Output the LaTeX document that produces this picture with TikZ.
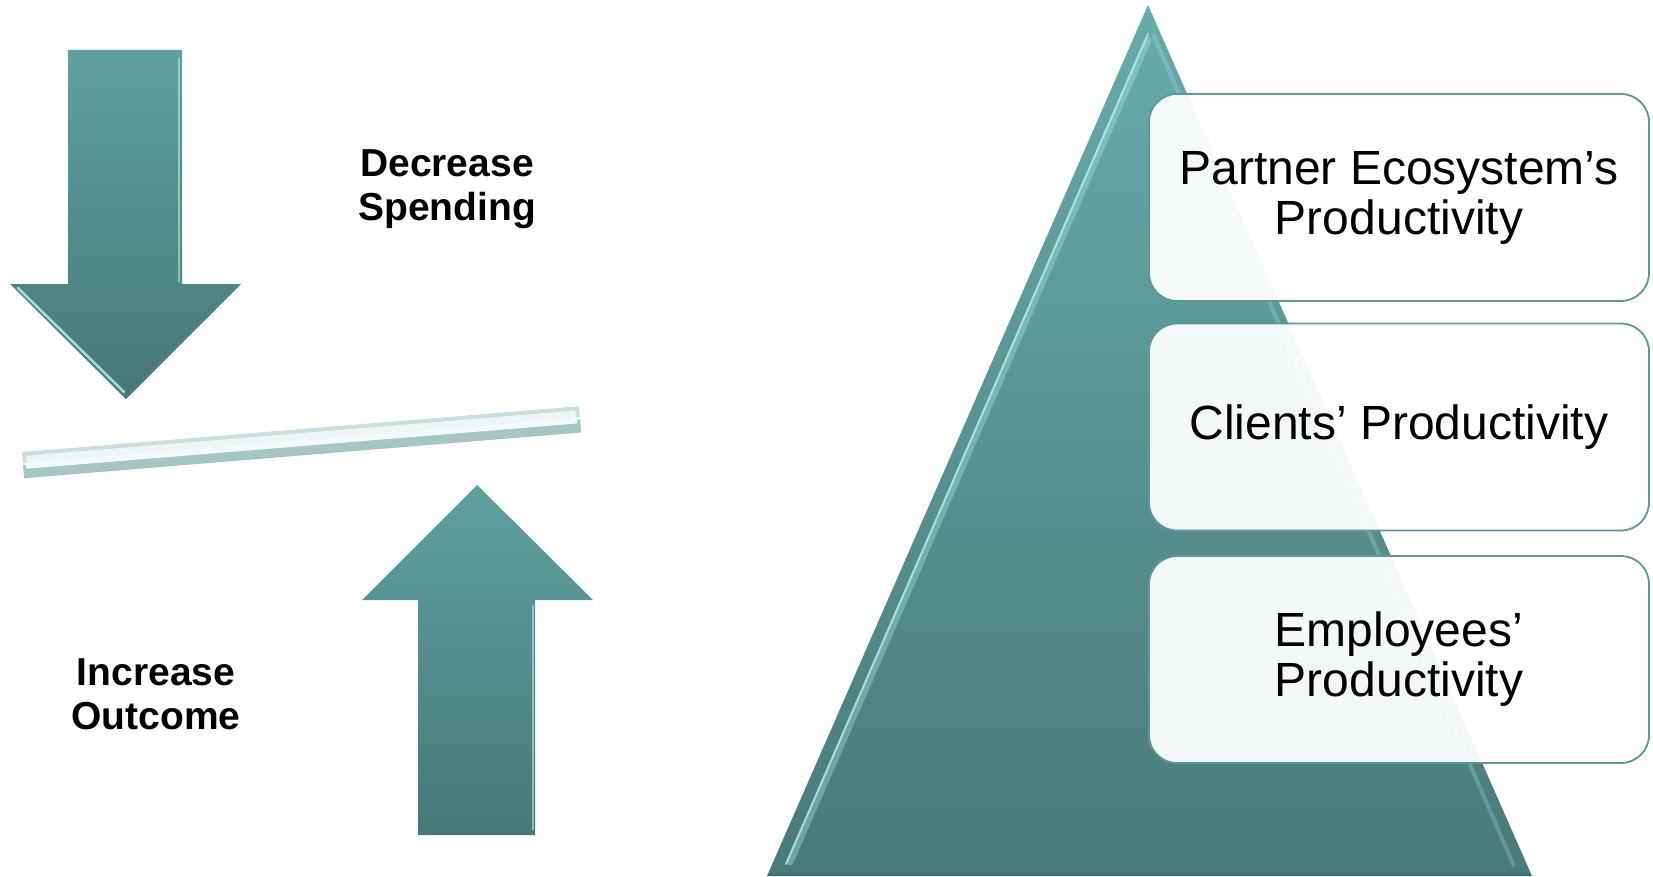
\documentclass[tikz,border=0pt]{standalone}
\usepackage{fontspec}
\setmainfont{Liberation Sans}
\definecolor{tealTop}{HTML}{5FA0A0}
\definecolor{tealBot}{HTML}{477878}
\definecolor{tealLight}{HTML}{B6ECEC}
\definecolor{triTop}{HTML}{68ABAB}
\definecolor{triBot}{HTML}{497A7A}
\definecolor{triDark}{HTML}{3E6A6A}
\definecolor{boxEdge}{HTML}{5C9898}
\definecolor{barTop}{HTML}{C9DEDE}
\definecolor{barMid}{HTML}{F2FAFA}
\definecolor{barBot}{HTML}{A6C5C5}
\begin{document}
\begin{tikzpicture}[x=1pt,y=-1pt,
  tealshade/.style={top color=tealTop, bottom color=tealBot},
  bevel/.style={draw=tealLight, line width=2.5pt, line cap=round, opacity=0.85},
  pbox/.style={draw=boxEdge, line width=1.8pt, rounded corners=28pt, fill=white,
     fill opacity=0.94, text opacity=1, minimum width=500pt, minimum height=207pt,
     font=\fontsize{48}{50}\selectfont, align=center, text=black},
  boldlbl/.style={font=\fontsize{39}{44}\selectfont\bfseries, align=center, text=black}]
\useasboundingbox (0,0) rectangle (1653,877);

% down arrow
\shade[tealshade] (68,50) -- (182,50) -- (182,284) -- (241,284) -- (126,399)
   -- (10,284) -- (68,284) -- cycle;
\draw[bevel] (18,288) -- (124,392);
\draw[bevel, line width=1.5pt, opacity=0.6] (179,58) -- (179,282);

% up arrow
\shade[tealshade] (477,485) -- (593,600) -- (535,600) -- (535,835) -- (418,835)
   -- (418,600) -- (362,600) -- cycle;
\draw[bevel, line width=1.5pt, opacity=0.6] (533,606) -- (533,830);

% bar
\begin{scope}[shift={(23,465)}, rotate=4.7]
  \fill[barBot] (0,0) rectangle (559,13);
  \fill[barMid] (3,-2) rectangle (556,4);
  \fill[barTop] (0,-13) rectangle (559,-2);
  \fill[white, opacity=0.7] (4,-9) rectangle (555,-2);
  \draw[barBot!70!black, line width=0.6pt, opacity=0.35] (0,13) -- (559,13);
\end{scope}

% labels
\node[boldlbl] (dec) at (447,189) {Decrease\\Spending};
\node[boldlbl] (inc) at (156,694) {Increase\\Outcome};

% triangle
\shade[top color=triTop, bottom color=triBot] (1148,5) -- (1532,876) -- (767,876) -- cycle;
\draw[tealLight, line width=7pt, opacity=0.35, line cap=round] (1148,40) -- (790,862);
\draw[tealLight, line width=2pt, opacity=0.8, line cap=round] (1148,34) -- (786,864);
\draw[tealLight, line width=4pt, opacity=0.25] (1153,34) -- (1514,866);
\draw[triDark, line width=2pt] (768,875) -- (1531,875);

% boxes
\node[pbox] (b1) at (1399,197.5) {Partner Ecosystem’s\\Productivity};
\node[pbox] (b2) at (1399,427) {Clients’ Productivity};
\node[pbox] (b3) at (1399,659.5) {Employees’\\Productivity};
\end{tikzpicture}
\end{document}
